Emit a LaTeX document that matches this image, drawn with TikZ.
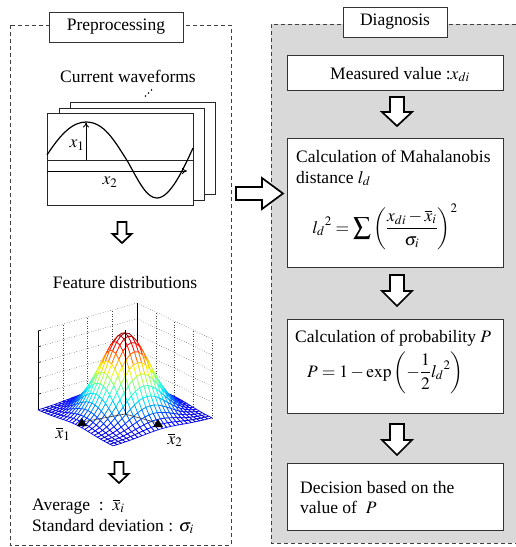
\documentclass[tikz,border=0pt]{standalone}
\usepackage{mathptmx}
\usepackage{fontspec}
\setmainfont{Liberation Serif}
\usetikzlibrary{arrows.meta}
\newcommand\figfont{\fontsize{17.5}{21}\selectfont}
\tikzset{
 lbl/.style={draw=black!80, line width=0.8pt, fill=white, minimum height=30pt, inner sep=0pt, font=\figfont},
 stepbox/.style={draw=black!80, line width=0.8pt, fill=white, inner sep=0pt},
 txt/.style={inner sep=0pt, font=\figfont},
 blockarrow/.style={draw=black, line width=1.7pt, fill=white, line join=miter},
 dashbox/.style={draw=black!75, line width=0.8pt, dash pattern=on 4pt off 3pt},
 wallgrid/.style={black!75, line width=0.5pt, dotted},
 frame/.style={draw=black!85, line width=0.9pt, fill=white},
}
% hollow down arrow: x, ytop, length, shaft width, head width, head length
\newcommand\hollowdown[6]{%
 \draw[blockarrow] ({#1-#4/2},#2) -- ({#1+#4/2},#2) -- ({#1+#4/2},{#2+#3-#6}) -- ({#1+#5/2},{#2+#3-#6}) -- (#1,{#2+#3}) -- ({#1-#5/2},{#2+#3-#6}) -- ({#1-#4/2},{#2+#3-#6}) -- cycle;}
\newcommand\meshquad[2]{%
 \pgfmathsetmacro\mua{#1/12-1}%
 \pgfmathsetmacro\mub{(#1+1)/12-1}%
 \pgfmathsetmacro\mva{#2/12-1}%
 \pgfmathsetmacro\mvb{(#2+1)/12-1}%
 \pgfmathsetmacro\mwaa{exp(-(\mua*\mua+\mva*\mva)/0.32)}%
 \pgfmathsetmacro\mwab{exp(-(\mua*\mua+\mvb*\mvb)/0.32)}%
 \pgfmathsetmacro\mwba{exp(-(\mub*\mub+\mva*\mva)/0.32)}%
 \pgfmathsetmacro\mwbb{exp(-(\mub*\mub+\mvb*\mvb)/0.32)}%
 \pgfmathsetmacro\mT{0.08+0.92*(\mwaa+\mwab+\mwba+\mwbb)/4}%
 \pgfmathsetmacro\mR{max(0,min(1,1.5-abs(4*\mT-3)))}%
 \pgfmathsetmacro\mG{max(0,min(1,1.5-abs(4*\mT-2)))}%
 \pgfmathsetmacro\mB{max(0,min(1,1.5-abs(4*\mT-1)))}%
 \definecolor{mc}{rgb}{\mR,\mG,\mB}%
 \filldraw[fill=white, draw=mc, line width=0.7pt, line join=round]
  ({125+37.5*\mua-49.5*\mva},{414+18*\mua+14*\mva-81*\mwaa}) --
  ({125+37.5*\mua-49.5*\mvb},{414+18*\mua+14*\mvb-81*\mwab}) --
  ({125+37.5*\mub-49.5*\mvb},{414+18*\mub+14*\mvb-81*\mwbb}) --
  ({125+37.5*\mub-49.5*\mva},{414+18*\mub+14*\mva-81*\mwba}) -- cycle;}
\begin{document}
\begin{tikzpicture}[x=1pt,y=-1pt]
\useasboundingbox (0,0) rectangle (516,547);
% panels
\draw[dashbox] (10,25) rectangle (231,545);
\fill[black!15] (271,24) rectangle (516,543);
\draw[dashbox] (516,24) -- (271,24) -- (271,543) -- (516,543);
\node[lbl, minimum width=134pt] (prep) at (116,27) {Preprocessing};
\node[lbl, minimum width=104pt] (diag) at (395,22) {Diagnosis};
% ---- preprocessing ----
\node[txt, anchor=base] (cw) at (128,82) {Current waveforms};
\fill (145.5,96) circle (0.9) (148.5,93) circle (0.9) (151.5,90) circle (0.9);
\draw[frame] (70,102) rectangle (215,194);
\draw[frame] (59,108) rectangle (204,200);
\draw[frame] (47,113) rectangle (193,205);
\draw[line width=0.8pt, black!85] (47,160) -- (193,160);
\draw[line width=0.8pt, -{To[length=5pt,width=6pt]}] (47,171) -- (187,171);
\draw[line width=0.8pt, -{To[length=5pt,width=6pt]}] (86,160) -- (86,122.5);
\draw[line width=1.2pt] (47,155) .. controls (60,135) and (72,122) .. (86,122)
  .. controls (104,122) and (114,140) .. (128,162)
  .. controls (140,184) and (147,198) .. (157,198)
  .. controls (170,198) and (183,170) .. (193,148);
\node[txt] (x1) at (77,145) {$x_1$};
\node[txt] (x2) at (110,182) {$x_2$};
\hollowdown{122}{222}{21}{9}{19}{9}
\node[txt, anchor=base] (fd) at (125,288) {Feature distributions};
% walls
\foreach \k in {1,2,3} {
  \draw[wallgrid] ({38+99*\k/4},{410-28*\k/4}) -- ({38+99*\k/4},{331-28*\k/4});
  \draw[wallgrid] ({137+75*\k/4},{382+36*\k/4}) -- ({137+75*\k/4},{303+36*\k/4});
}
\draw[wallgrid] (212,418) -- (212,339);
\foreach \k in {1,...,5} {
  \draw[wallgrid] (38,{410-79*\k/5}) -- (137,{382-79*\k/5}) -- (212,{418-79*\k/5});
}
\draw[line width=0.8pt] (38,410) -- (38,331);
\draw[line width=0.8pt] (137,382) -- (137,303);
\foreach \k in {1,...,5} { \draw[line width=0.6pt] (38,{410-79*\k/5}) -- (41,{409.2-79*\k/5}); }
% mesh
\foreach \s in {0,...,46} {
  \foreach \i in {0,...,23} {
    \pgfmathtruncatemacro\mj{\s-\i}
    \ifnum\mj>-1 \ifnum\mj<24 \meshquad{\i}{\mj}\fi\fi
  }
}
\draw[line width=0.9pt] (125,330) -- (125,414);
\draw[line width=0.6pt, black!80] (125,414) -- (82,422);
\draw[line width=0.6pt, black!80] (125,414) -- (158,423);
\fill (77,426) -- (87,426) -- (82,418) -- cycle;
\fill (153,427) -- (163,427) -- (158,419) -- cycle;
\node[txt] (m1) at (63,434) {$\overline{x}_1$};
\node[txt] (m2) at (175,440) {$\overline{x}_2$};
\hollowdown{119}{462}{21}{9}{19}{9}
\node[txt, anchor=base west] (avg) at (32,510) {Average~~:~~$\overline{x}_i$};
\node[txt, anchor=base west] (sd) at (32,531) {Standard deviation : $\sigma_i$};
% ---- big arrow ----
\draw[blockarrow] (236,187) -- (262,187) -- (262,178) -- (283,193.5) -- (262,209) -- (262,200) -- (236,200) -- cycle;
% ---- diagnosis ----
\node[stepbox, minimum width=216pt, minimum height=35pt] (meas) at (395,72.5) {};
\node[txt, anchor=base] (meast) at (400,79) {Measured value :$x_{di}$};
\hollowdown{397}{97}{29}{14}{30}{14}
\node[stepbox, minimum width=216pt, minimum height=129pt] (maha) at (395,202.5) {};
\node[txt, anchor=base west] (maha1) at (296,162) {Calculation of Mahalanobis};
\node[txt, anchor=base west] (maha2) at (296,183) {distance $l_d$};
\node[txt, anchor=base] (maha3) at (385,233) {$\displaystyle {l_d}^{2} = \sum\left(\frac{x_{di}-\overline{x}_i}{\sigma_i}\right)^{2}$};
\hollowdown{397}{275}{31}{14}{30}{15}
\node[stepbox, minimum width=216pt, minimum height=94pt] (prob) at (395,366) {};
\node[txt, anchor=base west] (prob1) at (295,342) {Calculation of probability $P$};
\node[txt, anchor=base west] (prob2) at (307,377) {$\displaystyle P = 1 - \exp\left(-\frac{1}{2}{l_d}^{2}\right)$};
\hollowdown{397}{424}{31}{14}{30}{15}
\node[stepbox, minimum width=216pt, minimum height=67pt] (dec) at (395,496.5) {};
\node[txt, anchor=base west] (dec1) at (300,493) {Decision based on the};
\node[txt, anchor=base west] (dec2) at (300,513) {value of\ \ $P$};
\end{tikzpicture}
\end{document}
